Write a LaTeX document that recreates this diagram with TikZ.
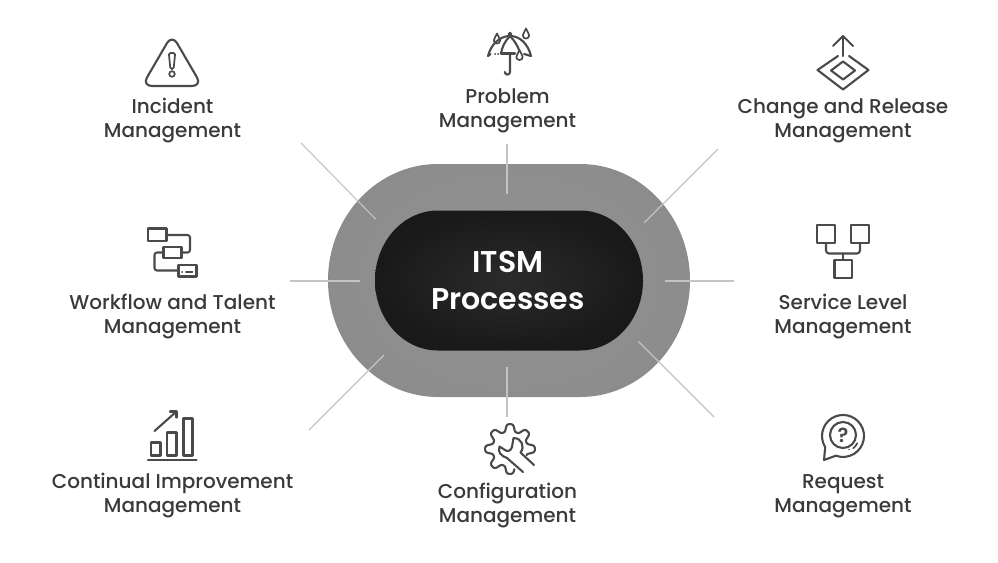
\documentclass[tikz,border=0pt]{standalone}
\usepackage{fontspec}
\setmainfont{Poppins}
\newfontfamily\labelfont{Poppins Medium}
\newfontfamily\titlefont{Poppins SemiBold}
\definecolor{ink}{HTML}{3A3A3A}
\definecolor{iconink}{HTML}{4A4A4A}
\definecolor{spoke}{HTML}{C4C4C4}
\definecolor{ringedge}{HTML}{8A8A8A}
\definecolor{ringmid}{HTML}{939393}
\definecolor{coreedge}{HTML}{191919}
\definecolor{coremid}{HTML}{2B2B2B}
\tikzset{
  icon/.style={draw=iconink,line width=2.1pt,line join=round,line cap=round},
  thin icon/.style={icon,line width=1.7pt},
  spokeline/.style={draw=spoke,line width=1.1pt},
  itemlabel/.style={text=ink,align=center,font=\labelfont\fontsize{20}{24}\selectfont,inner sep=0pt},
  corelabel/.style={text=white,align=center,font=\titlefont\fontsize{30}{37}\selectfont,inner sep=0pt},
  qlabel/.style={text=iconink,font=\titlefont\fontsize{20}{24}\selectfont,inner sep=0pt}
}
\newcommand\ovalshape[6]{(#5,#1) -- (#6,#1) arc[x radius=#4-#6,y radius=(#3-#1)/2,start angle=-90,delta angle=180] -- (#5,#3) arc[x radius=#5-#2,y radius=(#3-#1)/2,start angle=90,delta angle=180] -- cycle}
\newcommand\droplet[2]{\draw[thin icon,shift={(#1,#2)}] (0,-5) .. controls (1,-2) and (3.2,0) .. (3.2,2) .. controls (3.2,6) and (-3.2,6) .. (-3.2,2) .. controls (-3.2,0) and (-1,-2) .. cycle;}
\begin{document}
\begin{tikzpicture}[x=1pt,y=-1pt]
\useasboundingbox (0,0) rectangle (998,562);
\fill[white] (0,0) rectangle (998,562);

% central ovals
\begin{scope}
  \clip \ovalshape{164}{328}{397}{690}{438}{580};
  \shade[inner color=ringmid,outer color=ringedge] (260,100) rectangle (758,461);
\end{scope}
\begin{scope}
  \clip \ovalshape{210.5}{375}{350.5}{643}{438}{580};
  \shade[inner color=coremid,outer color=coreedge] (375,210) rectangle (643,351);
\end{scope}
\node[corelabel] (core) at (508,281) {ITSM\\Processes};

% spokes
\coordinate (tla) at (301,143); \coordinate (tlb) at (375.5,219);
\coordinate (ta) at (507,144);  \coordinate (tb) at (507,194);
\coordinate (tra) at (718,149); \coordinate (trb) at (644,223);
\coordinate (la) at (290,281);  \coordinate (lb) at (360,281);
\coordinate (ra) at (734,281);  \coordinate (rb) at (665,281);
\coordinate (bla) at (309,430); \coordinate (blb) at (384,355);
\coordinate (ba) at (507,417);  \coordinate (bb) at (507,367);
\coordinate (bra) at (714,417); \coordinate (brb) at (638.5,341.5);
\foreach \a/\b in {tla/tlb,ta/tb,tra/trb,la/lb,ra/rb,bla/blb,ba/bb,bra/brb}
  \draw[spokeline] (\a) -- (\b);

% labels
\node[itemlabel] (incident) at (172.5,121) {Incident\\Management};
\node[itemlabel] (problem) at (507.5,111) {Problem\\Management};
\node[itemlabel] (change) at (843,120.5) {Change and Release\\Management};
\node[itemlabel] (workflow) at (172.5,316.5) {Workflow and Talent\\Management};
\node[itemlabel] (service) at (843,316.5) {Service Level\\Management};
\node[itemlabel] (continual) at (172.5,496) {Continual Improvement\\Management};
\node[itemlabel] (config) at (507.5,505) {Configuration\\Management};
\node[itemlabel] (request) at (843,496.5) {Request\\Management};

% alert icon
\draw[icon,rounded corners=10pt] (172,34.5) -- (202,86) -- (142,86) -- cycle;
\draw[thin icon,rounded corners=1.5pt] (168.8,53) -- (175.2,53) -- (173.6,69) -- (170.4,69) -- cycle;
\draw[thin icon] (172,74) circle[radius=2.8];

% umbrella icon
\draw[icon] (488,56) .. controls (491,44) and (500,36) .. (510,36) .. controls (520,36) and (528,44) .. (531,56);
\draw[icon] (510,36) .. controls (505,41) and (502,47) .. (501,53.5);
\draw[icon] (510,36) .. controls (515,41) and (518,47) .. (519,50);
\draw[icon] (501,53.5) -- (515,53.5);
\draw[icon] (488,56) -- (490.5,54);
\draw[thin icon] (495,54) -- (495.3,54);
\draw[thin icon] (498,54) -- (498.3,54);
\draw[icon] (524,54) -- (531,56);
\draw[thin icon] (510,34) circle[radius=1.5];
\draw[icon] (510,54) -- (510,72) arc[radius=2.6,start angle=0,delta angle=180];
\droplet{497}{38.5}
\droplet{526}{33.5}
\droplet{519.5}{55}

% change icon
\draw[icon] (843,56) -- (843,36);
\draw[icon] (833,46) -- (843,36) -- (853,46);
\draw[icon] (838,56) -- (817.5,70) -- (843,89.5) -- (868.5,70) -- (849,56);
\draw[icon] (843,61.5) -- (855,70.5) -- (843,79.5) -- (831,70.5) -- cycle;

% workflow icon
\draw[icon] (148,228.5) rectangle (166.5,241);
\draw[icon] (163.5,247) rectangle (181.5,258);
\draw[icon] (178.5,265) rectangle (196.5,276.5);
\draw[icon,rounded corners=2.5pt] (166.5,235) -- (190,235) -- (190,252.5) -- (181.5,252.5);
\draw[icon,rounded corners=2.5pt] (163.5,252.5) -- (154.5,252.5) -- (154.5,270.5) -- (178.5,270.5);
\draw[thin icon] (182,272) -- (182.3,272);
\draw[thin icon] (186,272) -- (192.5,272);

% service level icon
\draw[icon] (817,225) rectangle (835,243);
\draw[icon] (851,225) rectangle (869,243);
\draw[icon] (834.5,260) rectangle (852,278);
\draw[icon,rounded corners=3pt] (826,243) -- (826,253.5) -- (860,253.5) -- (860,243);
\draw[icon] (843,253.5) -- (843,260);

% chart icon
\draw[icon] (148,460) -- (196.5,460);
\draw[icon] (151,442.5) rectangle (160.5,455.5);
\draw[icon] (167,432.5) rectangle (176.5,455.5);
\draw[icon] (183.5,418.5) rectangle (192.5,455.5);
\draw[icon] (154.5,431) -- (176.5,411.5);
\draw[icon] (170,411.5) -- (176.5,411.5) -- (176.5,417.5);

% gear icon
\draw[icon,shift={(510,449)}] plot[domain=78:380,samples=240,smooth] (\x:{21.3+3.6*tanh(1.6*cos(8*\x))/tanh(1.6)});
% wrench
\draw[icon] (534,465) -- (520.5,452.5) .. controls (525,447) and (522,438) .. (513.5,438) -- (512,447) .. controls (511,451) and (507,452) .. (505,450) -- (499.5,446.5) .. controls (497.5,452) and (501,456) .. (507,458) -- (523,472);

% request icon
\draw[icon] (824,460) -- (825.2,447.1) arc[radius=21,start angle=148,delta angle=322] -- cycle;
\draw[icon] (843,435) circle[radius=13];
\node[qlabel] (qmark) at (843,435) {?};
\draw[thin icon] (843,436) ++(50:16) arc[radius=16,start angle=50,delta angle=-23];
\draw[thin icon] (849,449.5) -- (849.2,449.5);
\end{tikzpicture}
\end{document}
